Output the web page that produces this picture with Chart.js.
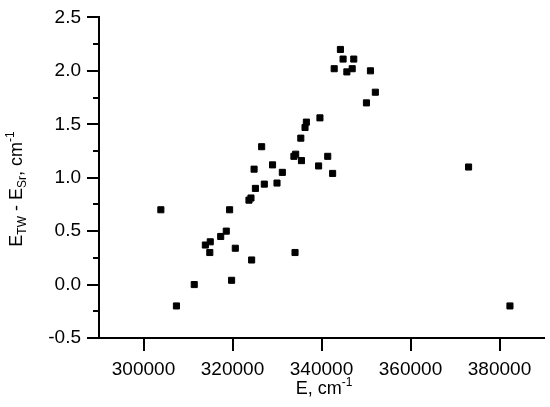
<!DOCTYPE html>
<html>
<head>
<meta charset="utf-8">
<script src="https://cdn.jsdelivr.net/npm/chart.js@4.4.1/dist/chart.umd.min.js"></script>
<style>
  html, body { margin: 0; padding: 0; background: #fff; }
</style>
</head>
<body>
<canvas id="c" width="550" height="407"></canvas>
<script>
// E (cm^-1) vs E_TW - E_Sr (cm^-1)
const E_VALUES = [
  303900, 307400, 311400, 313900, 315000, 314900, 317350, 318600, 319350, 319800,
  320630, 324300, 323700, 324150, 325150, 324850, 326550, 327150, 329000, 330000,
  331200, 333800, 334200, 335500, 334050, 335350, 336300, 336600, 339650, 339350,
  341400, 342500, 342850, 344250, 344850, 345700, 346900, 347250, 350100, 351000,
  352100, 373050, 382350,
];
const DIFF_VALUES = [
  0.70, -0.20, 0.00, 0.37, 0.40, 0.30, 0.45, 0.50, 0.70, 0.04,
  0.34, 0.23, 0.79, 0.81, 0.90, 1.08, 1.29, 0.94, 1.12, 0.95,
  1.05, 1.20, 1.22, 1.16, 0.30, 1.37, 1.47, 1.52, 1.56, 1.11,
  1.20, 1.04, 2.02, 2.20, 2.11, 1.99, 2.02, 2.11, 1.70, 2.00,
  1.80, 1.10, -0.20,
];
const X_TICKS = [300000, 320000, 340000, 360000, 380000];
const Y_TICKS = [-0.5, 0, 0.5, 1, 1.5, 2, 2.5];
const Y_MINOR = [-0.25, 0.25, 0.75, 1.25, 1.75, 2.25];

const FONT = '"Liberation Sans", Arial, sans-serif';
const INK = '#000';

// text runs with sub/superscripts, drawn left to right from (x0, y0)
function runsWidth(ctx, runs) {
  return runs.reduce((w, r) => { ctx.font = r.size + 'px ' + FONT; return w + ctx.measureText(r.t).width; }, 0);
}
function drawRuns(ctx, runs, x0, y0) {
  let cx = x0;
  runs.forEach(r => {
    ctx.font = r.size + 'px ' + FONT;
    ctx.fillText(r.t, cx, y0 + r.dy);
    cx += ctx.measureText(r.t).width;
  });
}

const X_TITLE = [{ t: 'E, cm', size: 18, dy: 0 }, { t: '-1', size: 12, dy: -8 }];
const Y_TITLE = [
  { t: 'E', size: 18, dy: 0 }, { t: 'TW', size: 12, dy: 4 },
  { t: ' - E', size: 18, dy: 0 }, { t: 'Sr', size: 12, dy: 4 },
  { t: ', cm', size: 18, dy: 0 }, { t: '-1', size: 12, dy: -8 },
];

const axisExtras = {
  id: 'axisExtras',
  afterDraw(chart) {
    const { ctx, chartArea, scales: { y } } = chart;
    ctx.save();
    ctx.strokeStyle = INK;
    ctx.lineWidth = 2;
    Y_MINOR.forEach(v => {
      const py = Math.round(y.getPixelForValue(v));
      ctx.beginPath();
      ctx.moveTo(chartArea.left - 6, py);
      ctx.lineTo(chartArea.left, py);
      ctx.stroke();
    });
    ctx.fillStyle = INK;
    ctx.textBaseline = 'alphabetic';
    const xw = runsWidth(ctx, X_TITLE);
    drawRuns(ctx, X_TITLE, 324 - xw / 2, 394);
    ctx.translate(22, 189);
    ctx.rotate(-Math.PI / 2);
    const yw = runsWidth(ctx, Y_TITLE);
    drawRuns(ctx, Y_TITLE, -yw / 2, 0);
    ctx.restore();
  },
};

new Chart(document.getElementById('c'), {
  type: 'scatter',
  data: {
    datasets: [{
      data: E_VALUES.map((e, i) => ({ x: e, y: DIFF_VALUES[i] })),
      pointStyle: 'rect',
      pointRadius: 4.3,
      pointBorderWidth: 1,
      borderColor: INK,
      backgroundColor: INK,
    }],
  },
  options: {
    responsive: false,
    animation: false,
    devicePixelRatio: 1,
    layout: { padding: { top: 13, right: 6, left: 0, bottom: 0 } },
    plugins: { legend: { display: false }, tooltip: { enabled: false } },
    scales: {
      x: {
        type: 'linear', min: 290000, max: 390000,
        afterBuildTicks: s => { s.ticks = X_TICKS.map(v => ({ value: v })); },
        afterFit: s => { s.height = 69; },
        grid: { drawOnChartArea: false, tickLength: 13, lineWidth: 2, color: INK },
        border: { color: INK, width: 2 },
        ticks: { color: INK, font: { family: FONT, size: 19 }, padding: 7, maxRotation: 0, autoSkip: false, callback: v => String(v) },
      },
      y: {
        type: 'linear', min: -0.5, max: 2.5,
        afterBuildTicks: s => { s.ticks = Y_TICKS.map(v => ({ value: v })); },
        afterFit: s => { s.width = 99; },
        grid: { drawOnChartArea: false, tickLength: 12, lineWidth: 2, color: INK },
        border: { color: INK, width: 2 },
        ticks: { color: INK, font: { family: FONT, size: 19 }, padding: 6, autoSkip: false, callback: v => v.toFixed(1) },
      },
    },
  },
  plugins: [axisExtras],
});
</script>
</body>
</html>
